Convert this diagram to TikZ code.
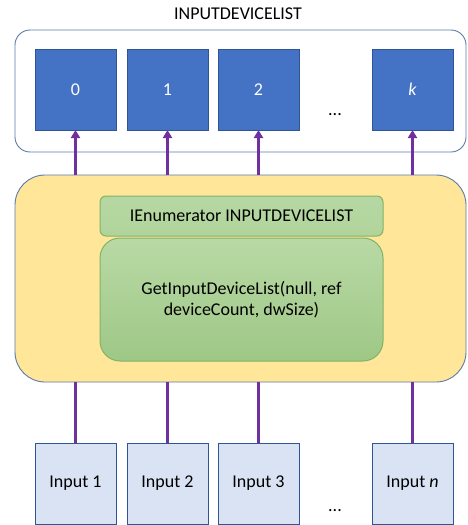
\documentclass[tikz,border=0pt]{standalone}
\usepackage{fontspec}
\setmainfont{Carlito}
\usetikzlibrary{arrows.meta}
\definecolor{idxblue}{HTML}{4472C4}
\definecolor{idxedge}{HTML}{2F5597}
\definecolor{inpfill}{HTML}{DAE3F3}
\definecolor{hubfill}{HTML}{FFE699}
\definecolor{hubedge}{HTML}{5B7BA8}
\definecolor{greenedge}{HTML}{82B366}
\definecolor{greentop}{HTML}{B9D9A5}
\definecolor{greenbot}{HTML}{9EC886}
\definecolor{linkpurple}{HTML}{7030A0}
\begin{document}
\begin{tikzpicture}[
    x=1pt, y=-1pt,
    font=\fontsize{18}{21}\selectfont,
    every node/.style = {inner sep=0pt, outer sep=0pt},
    idxbox/.style = {draw=idxedge, fill=idxblue, text=white,
        minimum width=81pt, minimum height=81pt},
    inpbox/.style = {draw=idxedge, fill=inpfill,
        minimum width=81pt, minimum height=81pt},
    greenbox/.style = {draw=greenedge, line width=1pt,
        top color=greentop, bottom color=greenbot,
        minimum width=283pt, align=center},
    link/.style = {draw=linkpurple, line width=2.6pt},
    linkarrow/.style = {link, -{Triangle[width=9pt,length=8pt]}}
     ]
  \useasboundingbox (0,0) rectangle (467,525);
  \node (title) at (238,14) {INPUTDEVICELIST};
  \node[draw=hubedge, line width=0.9pt, rounded corners=15pt,
        minimum width=451pt, minimum height=122pt] (list) at (240.5,91) {};
  \node[draw=hubedge, line width=0.9pt, fill=hubfill, rounded corners=30pt,
        minimum width=451pt, minimum height=207pt] (hub) at (240.5,278.5) {};
  \node[greenbox, rounded corners=6pt, minimum height=40pt,
        top color=greentop!90!greenbot, bottom color=greentop!70!greenbot] (enum) at (241.5,216)
    {IEnumerator INPUTDEVICELIST};
  \node[greenbox, rounded corners=20pt, minimum height=123pt] (call) at (241.5,299.5)
    {GetInputDeviceList(null, ref\\deviceCount, dwSize)};
  \foreach \i/\x/\lbl/\ilbl in {1/75.5/0/1, 2/167.5/1/2, 3/258.5/2/3, 4/412.5/\textit{k}/\textit{n}} {
    \node[idxbox] (idx\i) at (\x,89.5) {\lbl};
    \node[inpbox] (inp\i) at (\x,483.5) {Input \ilbl};
    \draw[linkarrow] (idx\i.south |- hub.north) -- (idx\i.south);
    \draw[link] (inp\i.north) -- (inp\i.north |- hub.south);
  }
  \node (dotsidx) at (335,115) {...};
  \node (dotsinp) at (335,511) {...};
\end{tikzpicture}
\end{document}
